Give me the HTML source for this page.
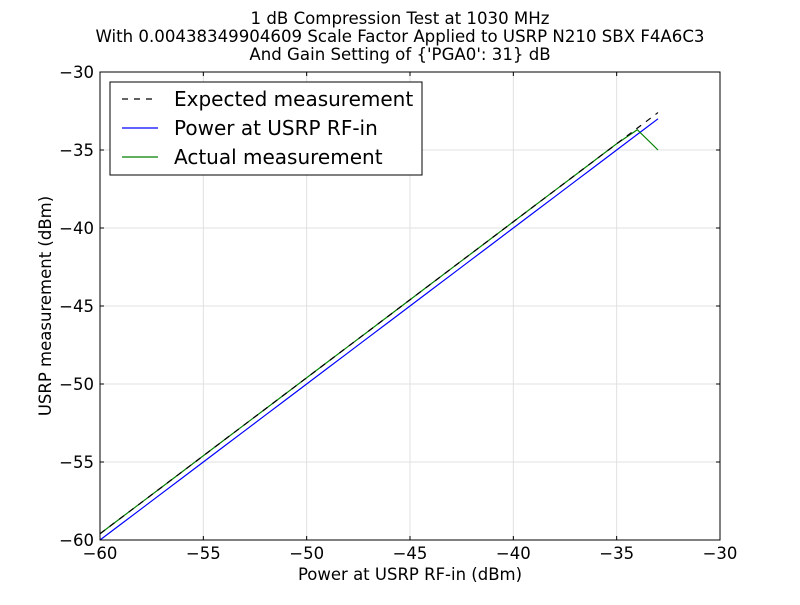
<!DOCTYPE html>
<html><head><meta charset="utf-8"><style>
body{margin:0;background:#fff;font-family:"Liberation Sans","DejaVu Sans",sans-serif}
svg text{font-family:"DejaVu Sans","Liberation Sans",sans-serif}
</style></head><body>
<svg id="c" width="800" height="600" xmlns="http://www.w3.org/2000/svg"></svg>
<script>
const xVals=[-60,-59,-58,-57,-56,-55,-54,-53,-52,-51,-50,-49,-48,-47,-46,-45,-44,-43,-42,-41,-40,-39,-38,-37,-36,-35,-34,-33];
const powerIn=[-60,-59,-58,-57,-56,-55,-54,-53,-52,-51,-50,-49,-48,-47,-46,-45,-44,-43,-42,-41,-40,-39,-38,-37,-36,-35,-34,-33];
const expected=[-59.6,-58.6,-57.6,-56.6,-55.6,-54.6,-53.6,-52.6,-51.6,-50.6,-49.6,-48.6,-47.6,-46.6,-45.6,-44.6,-43.6,-42.6,-41.6,-40.6,-39.6,-38.6,-37.6,-36.6,-35.6,-34.6,-33.6,-32.6];
const actual=[-59.6,-58.6,-57.6,-56.6,-55.6,-54.6,-53.6,-52.6,-51.6,-50.6,-49.6,-48.6,-47.6,-46.6,-45.6,-44.6,-43.6,-42.6,-41.6,-40.6,-39.6,-38.6,-37.6,-36.6,-35.6,-34.6,-33.7,-35];
const xTicks=[-60,-55,-50,-45,-40,-35,-30];
const yTicks=[-60,-55,-50,-45,-40,-35,-30];
const L=100,R=720,T=72,B=540;
const sx=v=>L+(v+60)/30*(R-L), sy=v=>B-(v+60)/30*(B-T);
const svg=document.getElementById('c');const NS='http://www.w3.org/2000/svg';
function mk(t,a,txt){const e=document.createElementNS(NS,t);for(const k in a)e.setAttribute(k,a[k]);if(txt!=null)e.textContent=txt;svg.appendChild(e);return e;}
xTicks.forEach(v=>{const x=sx(v);
const g=mk('line',{x1:x,x2:x,y1:T,y2:B,stroke:'#e0e0e0'});


mk('line',{x1:x,x2:x,y1:B,y2:B-4,stroke:'#000'});mk('line',{x1:x,x2:x,y1:T,y2:T+4,stroke:'#000'});
const t=mk('text',{x:x,y:B+19,'text-anchor':'middle','font-size':16.5},'\u2212'+Math.abs(v));

});
yTicks.forEach(v=>{const y=sy(v);
const g=mk('line',{x1:L,x2:R,y1:y,y2:y,stroke:'#e0e0e0'});


mk('line',{x1:L,x2:L+4,y1:y,y2:y,stroke:'#000'});mk('line',{x1:R,x2:R-4,y1:y,y2:y,stroke:'#000'});
const t=mk('text',{x:L-6,y:y+6,'text-anchor':'end','font-size':16.5},'\u2212'+Math.abs(v));

});
function line(ys,color,dash,name){const p=xVals.map((x,i)=>sx(x)+','+sy(ys[i])).join(' ');
const e=mk('polyline',{points:p,fill:'none',stroke:color,'stroke-width':1.2});if(dash)e.setAttribute('stroke-dasharray',dash);

}
line(powerIn,'#0000ff',null,'power-in-line');
line(actual,'#008000',null,'actual-line');
line(expected,'#000','6,6','expected-line');
const fr=mk('rect',{x:L,y:T,width:R-L,height:B-T,fill:'none',stroke:'#000'});


const titles=["1 dB Compression Test at 1030 MHz","With 0.00438349904609 Scale Factor Applied to USRP N210 SBX F4A6C3","And Gain Setting of {'PGA0': 31} dB"];
titles.forEach((s,i)=>{const t=mk('text',{x:400,y:24+i*18,'text-anchor':'middle','font-size':16.6},s);

});
const xt=mk('text',{x:410,y:580,'text-anchor':'middle','font-size':16.5},'Power at USRP RF-in (dBm)');


const yt=mk('text',{x:51,y:306,'text-anchor':'middle','font-size':16.5,transform:'rotate(-90 51 306)'},'USRP measurement (dBm)');


const lg=mk('rect',{x:110,y:82,width:312,height:93,fill:'#fff',stroke:'#000'});


[['Expected measurement','#000','6,6'],['Power at USRP RF-in','#0000ff',null],['Actual measurement','#008000',null]].forEach((d,i)=>{const y=99+i*29;
const l=mk('line',{x1:122,x2:158,y1:y,y2:y,stroke:d[1],'stroke-width':1.2});if(d[2])l.setAttribute('stroke-dasharray',d[2]);
const t=mk('text',{x:174,y:y+7,'font-size':20},d[0]);

});
</script></body></html>
